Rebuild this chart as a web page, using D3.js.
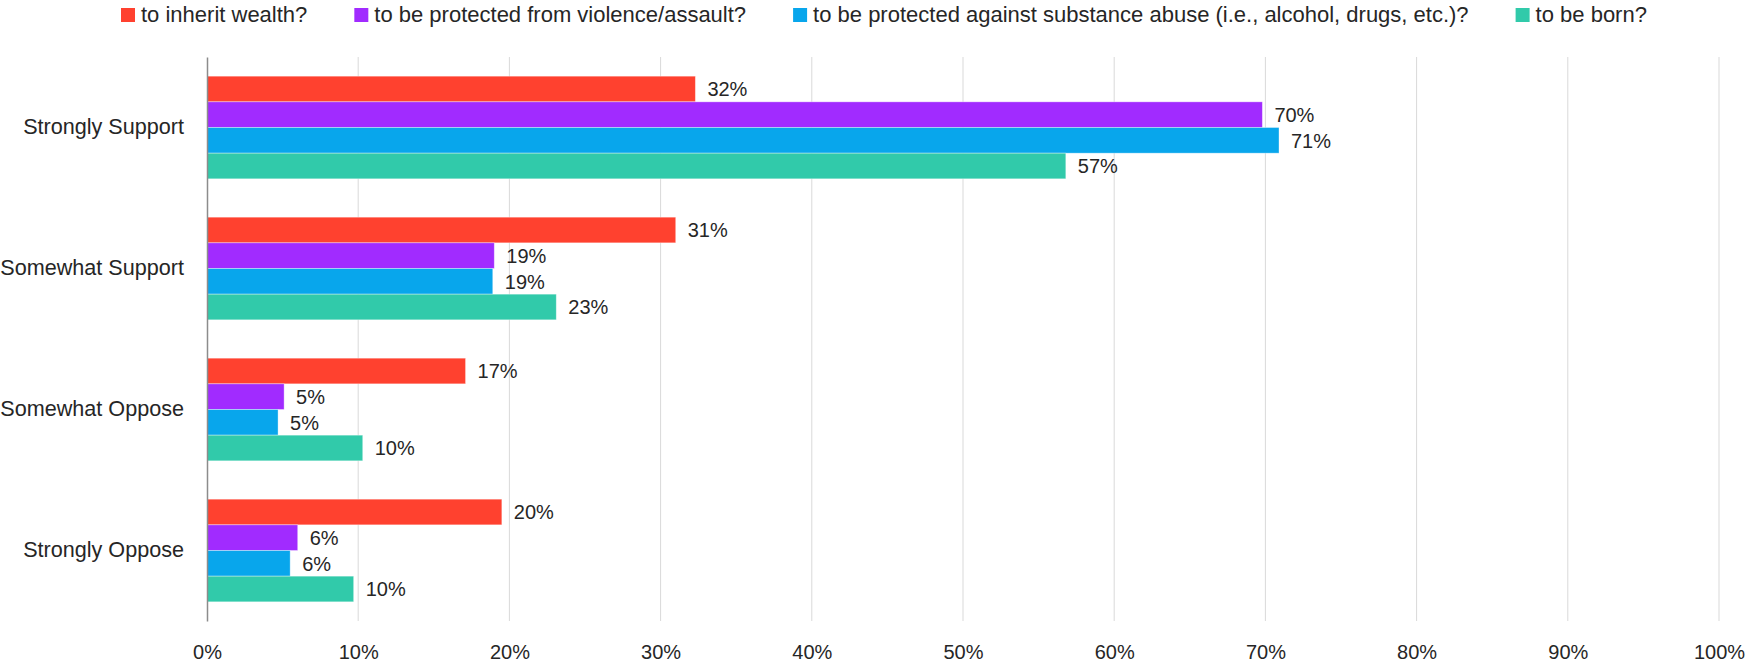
<!DOCTYPE html>
<html>
<head>
<meta charset="utf-8">
<script src="https://cdn.jsdelivr.net/npm/d3@7"></script>
<style>
  html, body { margin: 0; padding: 0; background: #ffffff; }
  svg { display: block; }
  text { font-family: "Liberation Sans", Arial, sans-serif; fill: #262626; }
</style>
</head>
<body>
<svg id="chart" width="1749" height="668"></svg>
<script>
// Survey responses: share of respondents (%) per answer, one array per question
const categories = ["Strongly Support", "Somewhat Support", "Somewhat Oppose", "Strongly Oppose"];
const seriesNames = [
  "to inherit wealth?",
  "to be protected from violence/assault?",
  "to be protected against substance abuse (i.e., alcohol, drugs, etc.)?",
  "to be born?"
];
const inheritWealth = [32.3, 31.0, 17.1, 19.5];
const protectedViolence = [69.8, 19.0, 5.1, 6.0];
const protectedSubstance = [70.9, 18.9, 4.7, 5.5];
const toBeBorn = [56.8, 23.1, 10.3, 9.7];
const xTicks = [0, 10, 20, 30, 40, 50, 60, 70, 80, 90, 100];
const colors = ["#FF412F", "#A12BFF", "#08A6EC", "#31CAAA"];

const seriesValues = [inheritWealth, protectedViolence, protectedSubstance, toBeBorn];

const svg = d3.select("#chart");
const margin = { left: 207, right: 30, top: 57, bottom: 47 };
const width = 1749, height = 668;

const x = d3.scaleLinear().domain([0, 100]).range([margin.left, 1719]);
const y = d3.scaleBand()
  .domain(categories)
  .range([margin.top, height - margin.bottom])
  .paddingInner(0.272)
  .paddingOuter(0.136);
const ySub = d3.scaleBand()
  .domain(d3.range(seriesNames.length))
  .range([0, y.bandwidth()]);

// vertical gridlines
svg.append("g")
  .selectAll("line")
  .data(xTicks.filter(d => d > 0))
  .join("line")
  .attr("x1", d => x(d)).attr("x2", d => x(d))
  .attr("y1", margin.top).attr("y2", height - margin.bottom)
  .attr("stroke", "#D9D9D9")
  .attr("stroke-width", 1);

// x-axis tick labels
const xAxis = d3.axisBottom(x)
  .tickValues(xTicks)
  .tickFormat(d => d + "%")
  .tickSize(0)
  .tickPadding(0);
const xg = svg.append("g")
  .attr("transform", `translate(0, ${height - margin.bottom + 24})`)
  .call(xAxis);
xg.select(".domain").remove();
xg.selectAll("text")
  .attr("font-size", 20)
  .attr("font-family", "'Liberation Sans', Arial, sans-serif")
  .attr("fill", "#262626");

// bars
const groups = svg.append("g")
  .selectAll("g")
  .data(categories)
  .join("g")
  .attr("transform", d => `translate(0, ${y(d)})`);

groups.each(function (cat, ci) {
  const g = d3.select(this);
  const rows = seriesValues.map((vals, si) => ({ si, v: vals[ci] }));
  g.selectAll("rect")
    .data(rows)
    .join("rect")
    .attr("x", x(0))
    .attr("y", d => ySub(d.si))
    .attr("width", d => x(d.v) - x(0))
    .attr("height", ySub.bandwidth())
    .attr("fill", d => colors[d.si])
    .attr("stroke", "#ffffff")
    .attr("stroke-opacity", 0.45)
    .attr("stroke-width", 0.8);
  g.selectAll("text.value")
    .data(rows)
    .join("text")
    .attr("class", "value")
    .attr("x", d => x(d.v) + 12)
    .attr("y", d => ySub(d.si) + ySub.bandwidth() / 2)
    .attr("dy", "0.36em")
    .attr("font-size", 20)
    .text(d => Math.round(d.v) + "%");
});

// category axis
const yAxis = d3.axisLeft(y).tickSize(0).tickPadding(23);
const yg = svg.append("g")
  .attr("transform", `translate(${x(0)}, 0)`)
  .call(yAxis);
yg.select(".domain")
  .attr("stroke", "#8C8C8C")
  .attr("stroke-width", 1.5);
yg.selectAll("text")
  .attr("font-size", 21.6)
  .attr("font-family", "'Liberation Sans', Arial, sans-serif")
  .attr("fill", "#262626");

// legend across the top
const legend = svg.append("g");
let lx = 121;
seriesNames.forEach((name, i) => {
  legend.append("rect")
    .attr("x", lx).attr("y", 8)
    .attr("width", 14).attr("height", 14)
    .attr("fill", colors[i]);
  const t = legend.append("text")
    .attr("x", lx + 20).attr("y", 22)
    .attr("font-size", 22)
    .text(name);
  lx += 20 + t.node().getComputedTextLength() + 47;
});
</script>
</body>
</html>
